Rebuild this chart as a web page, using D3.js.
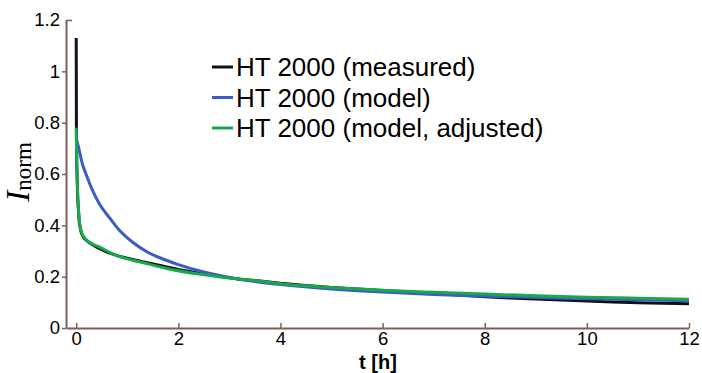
<!DOCTYPE html>
<html>
<head>
<meta charset="utf-8">
<script src="https://cdn.jsdelivr.net/npm/d3@7"></script>
<style>
  body { margin: 0; background: #fff; }
  text { font-family: "Liberation Sans", Arial, sans-serif; }
</style>
</head>
<body>
<svg id="chart" width="702" height="373"></svg>
<script>
// time axis [h]
const xTicks = [0, 2, 4, 6, 8, 10, 12];
const yTicks = [0, 0.2, 0.4, 0.6, 0.8, 1, 1.2];

// measured current (normalised)
const measuredT = [0, 0.004, 0.01, 0.03, 0.06, 0.1, 0.15, 0.25, 0.4, 0.6, 0.8, 1.0, 1.3, 1.6, 2.0, 2.4, 2.8, 3.2, 3.6, 4.0, 4.5, 5.0, 5.5, 6.0, 6.5, 7.0, 7.5, 8.0, 8.5, 9.0, 9.5, 10.0, 10.5, 11.0, 11.5, 12.0];
const measuredV = [1.13, 0.78, 0.64, 0.5, 0.41, 0.37, 0.35, 0.333, 0.315, 0.296, 0.282, 0.272, 0.258, 0.246, 0.228, 0.213, 0.202, 0.19, 0.183, 0.174, 0.166, 0.158, 0.152, 0.146, 0.14, 0.134, 0.129, 0.122, 0.117, 0.113, 0.109, 0.105, 0.101, 0.098, 0.096, 0.094];

// model
const modelT = [0, 0.05, 0.12, 0.2, 0.3, 0.45, 0.65, 0.85, 1.1, 1.4, 1.75, 2, 2.5, 3, 3.5, 4, 5, 6, 7, 8, 9, 10, 11, 12];
const modelV = [0.74, 0.70, 0.64, 0.595, 0.545, 0.485, 0.43, 0.38, 0.335, 0.295, 0.265, 0.247, 0.218, 0.197, 0.181, 0.169, 0.152, 0.14, 0.131, 0.124, 0.119, 0.114, 0.11, 0.106];

// model, adjusted
const adjustedT = [0, 0.01, 0.03, 0.06, 0.1, 0.15, 0.25, 0.44, 0.77, 1.09, 1.4, 1.75, 2.4, 2.9, 3.5, 4, 5, 6, 7, 8, 9, 10, 11, 12];
const adjustedV = [0.78, 0.66, 0.52, 0.42, 0.375, 0.355, 0.335, 0.317, 0.284, 0.265, 0.25, 0.233, 0.21, 0.197, 0.185, 0.172, 0.158, 0.147, 0.139, 0.132, 0.126, 0.12, 0.116, 0.112];

const seriesNames = ["HT 2000 (measured)", "HT 2000 (model)", "HT 2000 (model, adjusted)"];
const seriesColors = ["#111111", "#3a5cc4", "#19a84c"];

const svg = d3.select("#chart");
const axisColor = "#7e5f58";

const x = d3.scaleLinear().domain([-0.2, 12]).range([66, 689]);
const y = d3.scaleLinear().domain([0, 1.2]).range([328, 20]);

// x axis, ticks pointing up
const xAxis = svg.append("g")
    .attr("transform", `translate(0,${y(0)})`)
    .call(d3.axisBottom(x).tickValues(xTicks).tickSize(-5).tickSizeOuter(0).tickPadding(4));
xAxis.select(".domain").attr("stroke", axisColor).attr("stroke-width", 2);
xAxis.selectAll(".tick line").attr("stroke", axisColor).attr("stroke-width", 1.5);
xAxis.selectAll(".tick text")
    .attr("fill", "#000")
    .style("font-size", "18.5px")
    .style("font-family", "Liberation Sans, Arial, sans-serif");

// y axis, ticks pointing left
const yAxis = svg.append("g")
    .attr("transform", `translate(${x(-0.2)},0)`)
    .call(d3.axisLeft(y).tickValues(yTicks).tickFormat(d3.format("~g")).tickSize(4).tickSizeOuter(0).tickPadding(2));
yAxis.select(".domain").attr("stroke", axisColor).attr("stroke-width", 2);
yAxis.selectAll(".tick line").attr("stroke", axisColor).attr("stroke-width", 1.5);
yAxis.selectAll(".tick text")
    .attr("fill", "#000")
    .style("font-size", "18.5px")
    .style("font-family", "Liberation Sans, Arial, sans-serif");
// small stub to the right at the top
yAxis.select(".tick:last-of-type line").attr("x2", 6);

// curves
const toPoints = (ts, vs) => ts.map((t, i) => [t, vs[i]]);
const lineLinear = d3.line().x(d => x(d[0])).y(d => y(d[1]));
const lineSmooth = d3.line().x(d => x(d[0])).y(d => y(d[1])).curve(d3.curveMonotoneX);

svg.append("path")
    .datum(toPoints(measuredT, measuredV))
    .attr("fill", "none")
    .attr("stroke", seriesColors[0])
    .attr("stroke-width", 3)
    .attr("d", lineLinear);

svg.append("path")
    .datum(toPoints(modelT, modelV))
    .attr("fill", "none")
    .attr("stroke", seriesColors[1])
    .attr("stroke-width", 3)
    .attr("d", lineSmooth);

svg.append("path")
    .datum(toPoints(adjustedT, adjustedV))
    .attr("fill", "none")
    .attr("stroke", seriesColors[2])
    .attr("stroke-width", 3)
    .attr("d", lineSmooth);

// legend
const legend = svg.append("g").attr("transform", "translate(212,67)");
seriesNames.forEach((name, i) => {
    const row = legend.append("g").attr("transform", `translate(0,${i * 30.5})`);
    row.append("line")
        .attr("x1", 0).attr("x2", 21)
        .attr("stroke", seriesColors[i])
        .attr("stroke-width", 3);
    row.append("text")
        .attr("x", 24)
        .attr("dy", "0.35em")
        .style("font-size", "26px")
        .attr("fill", "#000")
        .text(name);
});

// axis labels
svg.append("text")
    .attr("x", 378)
    .attr("y", 369)
    .attr("text-anchor", "middle")
    .style("font-size", "20px")
    .style("font-weight", "bold")
    .text("t [h]");

const yLabel = svg.append("text")
    .attr("transform", "translate(29,172) rotate(-90)")
    .attr("text-anchor", "middle")
    .style("font-family", "Liberation Serif, Times New Roman, serif");
yLabel.append("tspan")
    .style("font-style", "italic")
    .style("font-size", "33px")
    .text("I");
yLabel.append("tspan")
    .attr("dy", 2)
    .style("font-size", "23px")
    .text("norm");
</script>
</body>
</html>
